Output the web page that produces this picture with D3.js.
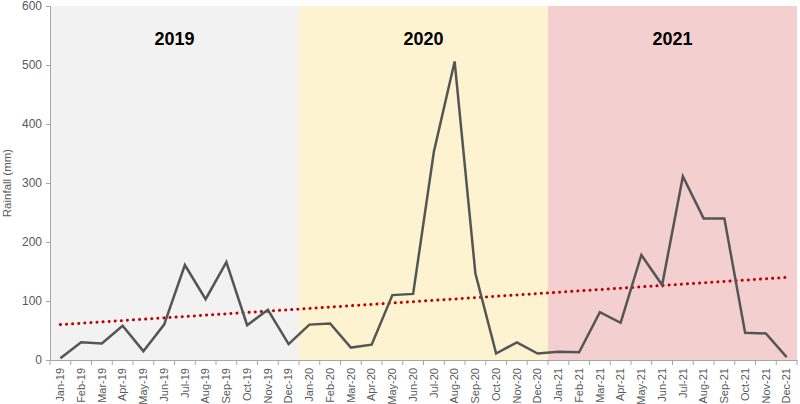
<!DOCTYPE html>
<html><head><meta charset="utf-8">
<script src="https://cdn.jsdelivr.net/npm/d3@7"></script>
<style>body{margin:0;background:#fff}svg{display:block}</style>
</head><body><svg id="c" width="800" height="404"></svg>
<script>
const months = ["Jan-19","Feb-19","Mar-19","Apr-19","May-19","Jun-19","Jul-19","Aug-19","Sep-19","Oct-19","Nov-19","Dec-19",
"Jan-20","Feb-20","Mar-20","Apr-20","May-20","Jun-20","Jul-20","Aug-20","Sep-20","Oct-20","Nov-20","Dec-20",
"Jan-21","Feb-21","Mar-21","Apr-21","May-21","Jun-21","Jul-21","Aug-21","Sep-21","Oct-21","Nov-21","Dec-21"];
const rainfall = [3,30,28,58,15,60,161,103,166,59,85,27,
60,62,21,26,110,112,353,506,147,11,30,11,
14,13,81,63,178,127,311,240,240,46,45,5];
const years = ["2019","2020","2021"];
const yearColors = ["#f2f2f2","#fdf3d1","#f4cfd0"];
const trendEnds = [60,140];
const yTicks = [0,100,200,300,400,500,600];

const svg = d3.select("#c");
const m = {l:50, r:3, t:6, b:44};
const W = 800, H = 404;
const x = d3.scaleBand().domain(months).range([m.l, W-m.r]).padding(0);
const y = d3.scaleLinear().domain([0,600]).range([H-m.b, m.t]);

years.forEach((yr,i)=>{
  const x0 = x(months[i*12]), x1 = x(months[i*12+11]) + x.bandwidth();
  svg.append("rect").attr("x",x0).attr("y",y(600)).attr("width",x1-x0).attr("height",y(0)-y(600)).attr("fill",yearColors[i]);
  svg.append("text").attr("x",(x0+x1)/2).attr("y",45).attr("text-anchor","middle")
    .attr("font-family","Liberation Sans, Arial, sans-serif").attr("font-weight","bold").attr("font-size",18).attr("fill","#000").text(yr);
});

const cx = m => x(m) + x.bandwidth()/2;
svg.append("line").attr("x1",cx(months[0])).attr("x2",cx(months[months.length-1]))
  .attr("y1",y(trendEnds[0])).attr("y2",y(trendEnds[1]))
  .attr("stroke","#c00000").attr("stroke-width",3).attr("stroke-linecap","round").attr("stroke-dasharray","0.1 6");

svg.append("path").datum(rainfall)
  .attr("d", d3.line().x((d,i)=>cx(months[i])).y(d=>y(d)))
  .attr("fill","none").attr("stroke","#555555").attr("stroke-width",2.5).attr("stroke-linejoin","miter");

const ya = svg.append("g").attr("transform",`translate(${m.l},0)`)
  .call(d3.axisLeft(y).tickValues(yTicks).tickSize(4).tickPadding(4));
ya.select(".domain").attr("stroke","#a6a6a6");
ya.selectAll(".tick line").attr("stroke","#a6a6a6");
ya.selectAll("text").attr("font-family","Liberation Sans, Arial, sans-serif").attr("font-size",12).attr("fill","#595959");

const xa = svg.append("g").attr("transform",`translate(0,${H-m.b})`)
  .call(d3.axisBottom(x).tickSize(0).tickPadding(0));
xa.select(".domain").attr("stroke","#a6a6a6");
xa.selectAll(".tick text").attr("font-family","Liberation Sans, Arial, sans-serif").attr("font-size",11).attr("fill","#595959")
  .attr("transform","rotate(-90)").attr("text-anchor","end").attr("dy","0.35em").attr("x",-8).attr("y",0);
const bounds = months.map(mm=>x(mm)).concat([x(months[months.length-1])+x.bandwidth()]);
xa.selectAll(".bt").data(bounds).enter().append("line").attr("class","bt")
  .attr("x1",d=>d).attr("x2",d=>d).attr("y1",0).attr("y2",5).attr("stroke","#a6a6a6");

svg.append("text").attr("transform",`translate(11,${(y(0)+y(600))/2}) rotate(-90)`).attr("text-anchor","middle")
  .attr("font-family","Liberation Sans, Arial, sans-serif").attr("font-size",11.5).attr("fill","#595959").text("Rainfall (mm)");
</script></body></html>
